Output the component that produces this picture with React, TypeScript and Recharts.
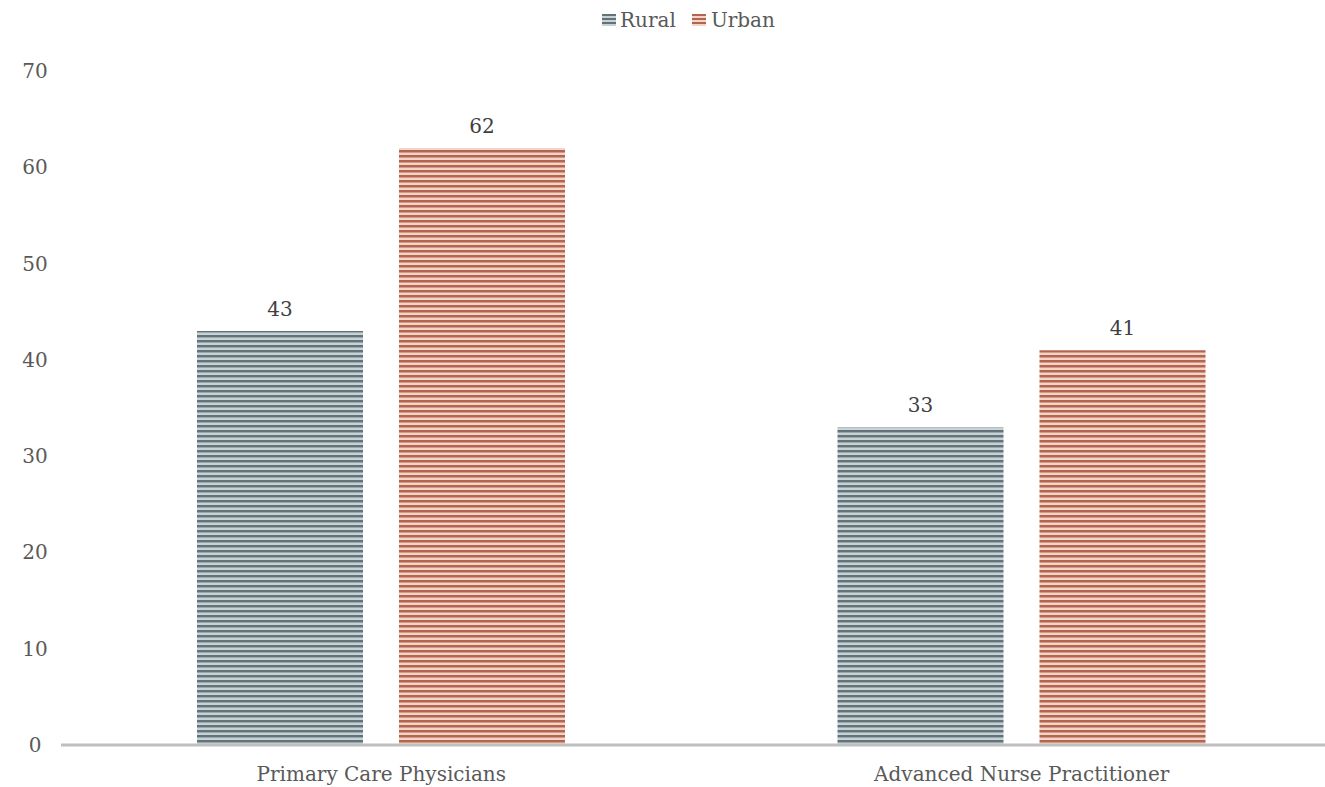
import React from "react";
import { BarChart, Bar, XAxis, YAxis, LabelList } from "recharts";

const categories = ["Primary Care Physicians", "Advanced Nurse Practitioner"];
const ruralValues = [43, 33];
const urbanValues = [62, 41];
const yTicks = [0, 10, 20, 30, 40, 50, 60, 70];

const data = categories.map((c, i) => ({ name: c, Rural: ruralValues[i], Urban: urbanValues[i] }));

const FONT = "'DejaVu Serif', serif";
const FS = 20;

const Patterns = () => (
  <defs>
    <pattern id="ruralStripe" patternUnits="userSpaceOnUse" width="8" height="5">
      <rect x="0" y="0" width="8" height="5" fill="#c8d2d5" />
      <rect x="0" y="0" width="8" height="2" fill="#62737a" />
      <rect x="0" y="2" width="8" height="1" fill="#98a7ac" />
    </pattern>
    <pattern id="urbanStripe" patternUnits="userSpaceOnUse" width="8" height="5">
      <rect x="0" y="0" width="8" height="5" fill="#f3d4c9" />
      <rect x="0" y="0" width="8" height="2" fill="#b3664f" />
      <rect x="0" y="2" width="8" height="1" fill="#d9978a" />
    </pattern>
  </defs>
);

const YTick = (props: any) => {
  const { y, payload } = props;
  return (
    <text x={35} y={y} dy={7} textAnchor="middle" fill="#595959" fontSize={FS} fontFamily={FONT}>
      {payload.value}
    </text>
  );
};

const XTick = (props: any) => {
  const { x, y, payload } = props;
  return (
    <text x={x} y={y} dy={28} textAnchor="middle" fill="#595959" fontSize={FS} fontFamily={FONT}>
      {payload.value}
    </text>
  );
};

const Legend = () => (
  <div
    style={{
      position: "absolute",
      top: 8,
      left: 0,
      width: 1325,
      display: "flex",
      justifyContent: "center",
      alignItems: "center",
      fontFamily: FONT,
      fontSize: FS,
      color: "#595959",
      paddingLeft: 52,
      boxSizing: "border-box",
      zIndex: 2,
    }}
  >
    <svg width={14} height={12} style={{ marginRight: 4 }}>
      <defs>
        <pattern id="ruralStripeL" patternUnits="userSpaceOnUse" width="8" height="4">
          <rect width="8" height="4" fill="#c8d2d5" />
          <rect width="8" height="2" fill="#62737a" />
        </pattern>
      </defs>
      <rect width={14} height={12} fill="url(#ruralStripeL)" />
    </svg>
    <span style={{ marginRight: 16 }}>Rural</span>
    <svg width={14} height={12} style={{ marginRight: 5 }}>
      <defs>
        <pattern id="urbanStripeL" patternUnits="userSpaceOnUse" width="8" height="4">
          <rect width="8" height="4" fill="#f3d4c9" />
          <rect width="8" height="2" fill="#b3664f" />
        </pattern>
      </defs>
      <rect width={14} height={12} fill="url(#urbanStripeL)" />
    </svg>
    <span>Urban</span>
  </div>
);

export default function App() {
  return (
    <div
      style={{
        position: "absolute",
        top: 0,
        left: 0,
        width: 1325,
        height: 787,
        overflow: "hidden",
        background: "#ffffff",
      }}
    >
      <Legend />
      <BarChart
        width={1342}
        height={787}
        data={data}
        margin={{ top: 71, right: 0, bottom: 0, left: 0 }}
        barGap={36}
        barCategoryGap={136}
      >
        <Patterns />
        <YAxis
          domain={[0, 70]}
          ticks={yTicks}
          axisLine={false}
          tickLine={false}
          width={61}
          tick={<YTick />}
          interval={0}
        />
        <XAxis
          dataKey="name"
          height={42}
          axisLine={{ stroke: "#bfbfbf", strokeWidth: 3 }}
          tickLine={false}
          tick={<XTick />}
        />
        <Bar dataKey="Rural" fill="url(#ruralStripe)" barSize={166} isAnimationActive={false}>
          <LabelList dataKey="Rural" position="top" offset={15} fill="#404040" fontSize={FS} fontFamily={FONT} />
        </Bar>
        <Bar dataKey="Urban" fill="url(#urbanStripe)" barSize={166} isAnimationActive={false}>
          <LabelList dataKey="Urban" position="top" offset={15} fill="#404040" fontSize={FS} fontFamily={FONT} />
        </Bar>
      </BarChart>
    </div>
  );
}
